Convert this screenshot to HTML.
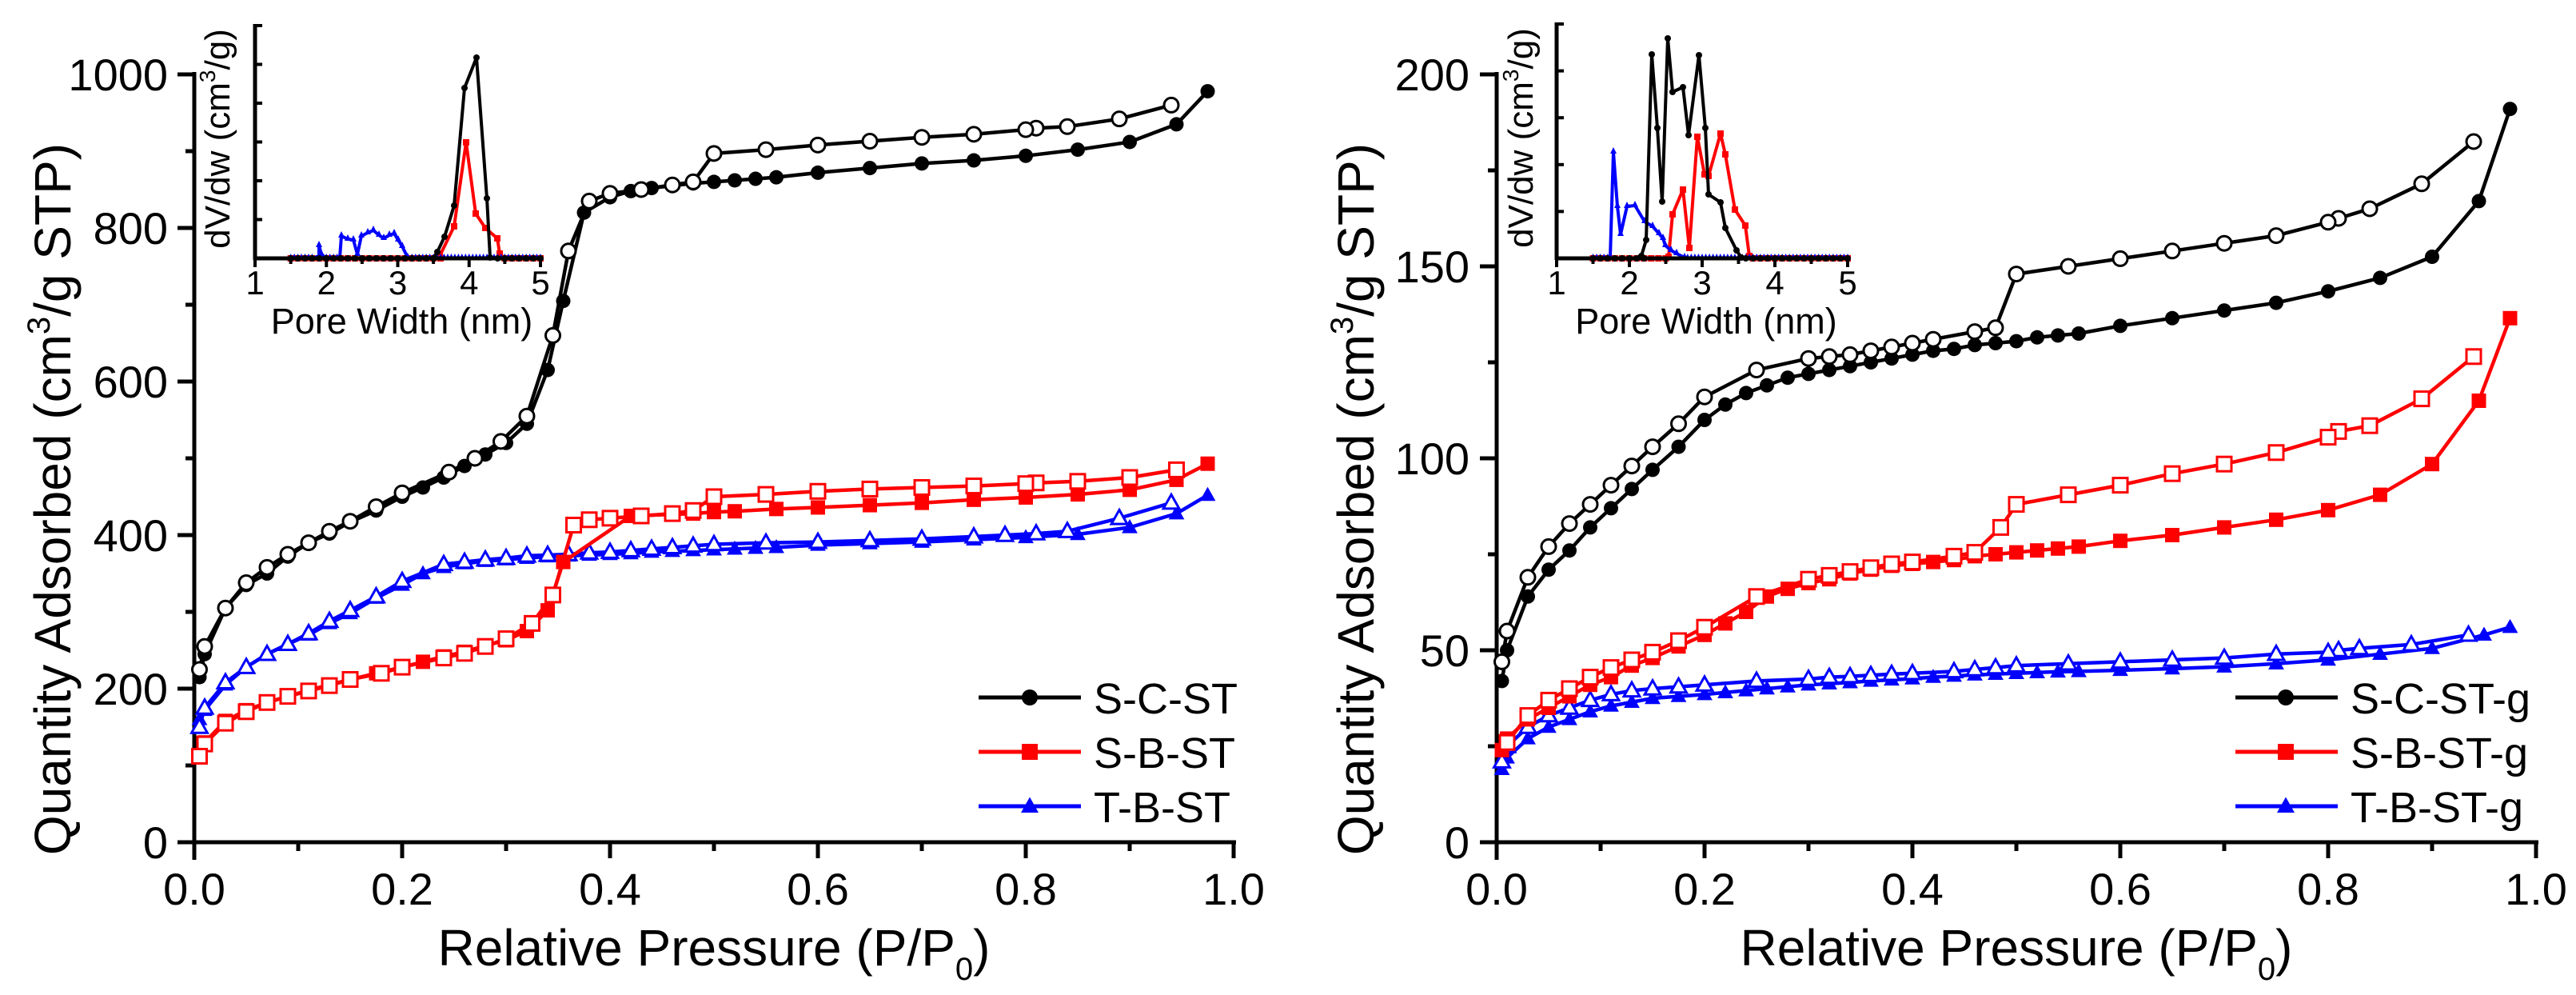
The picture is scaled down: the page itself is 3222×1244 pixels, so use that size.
<!DOCTYPE html>
<html><head><meta charset="utf-8"><style>
html,body{margin:0;padding:0;background:#fff;}
svg{display:block;font-family:"Liberation Sans",Arial,sans-serif;}
</style></head><body>
<svg id="s" width="3222" height="1244" xmlns="http://www.w3.org/2000/svg"></svg>
<script>
const S=document.getElementById('s');const NS='http://www.w3.org/2000/svg';
function el(t,a,txt){const e=document.createElementNS(NS,t);for(const k in a)e.setAttribute(k,a[k]);if(txt!==undefined)e.textContent=txt;S.appendChild(e);return e;}
function line(x1,y1,x2,y2,w,c){el('line',{x1,y1,x2,y2,stroke:c||'#000','stroke-width':w||5});}
function poly(pts,c,w){el('polyline',{points:pts.map(p=>p[0].toFixed(1)+','+p[1].toFixed(1)).join(' '),fill:'none',stroke:c,'stroke-width':w,'stroke-linejoin':'round'});}
function marker(type,x,y,c,open,sz){
 const r=sz||9;const f=open?'#fff':c;const sw=open?3:0;
 if(type==='c')el('circle',{cx:x,cy:y,r:r,fill:f,stroke:open?c:'none','stroke-width':sw});
 else if(type==='s')el('rect',{x:x-r,y:y-r,width:2*r,height:2*r,fill:f,stroke:open?c:'none','stroke-width':sw});
 else el('polygon',{points:`${x},${y-r*1.15} ${x+r*1.1},${y+r*0.8} ${x-r*1.1},${y+r*0.8}`,fill:f,stroke:open?c:'none','stroke-width':sw});
}
function series(data,X,Y,c,type,open){
 const pts=data.map(d=>[X(d[0]),Y(d[1])]);poly(pts,c,4.5);pts.forEach(p=>marker(type,p[0],p[1],c,open));
}
function text(x,y,s,size,anchor,extra){const a={x,y,'font-size':size,'text-anchor':anchor||'start',fill:'#000'};Object.assign(a,extra||{});return el('text',a,s);}

function mainAxes(x0,y0,ymaxVal,ystep,yscale,ylabels,labelRight){
 // axes
 line(x0,y0,x0+1300+3,y0,5);line(x0,y0+22,x0,y0-ymaxVal*yscale-3,5);
 for(let i=0;i<=10;i++){const x=x0+130*i;line(x,y0,x,y0+(i%2==0?20:11),5);}
 for(let i=0;i<=0;i++){}
 const n=Math.round(ymaxVal/ystep);
 for(let i=0;i<=2*n;i++){const y=y0-i*ystep/2*yscale;line(x0,y,x0-(i%2==0?21:11),y,5);}
 for(let i=0;i<=5;i++){text(x0+260*i,1131,(i*0.2).toFixed(1),56,'middle');}
 ylabels.forEach((l,i)=>text(labelRight,y0-i*ystep*yscale+20,l,56,'end'));
}

// ---------- LEFT MAIN ----------
{
const X=p=>243+1300*p, Y=v=>1053-0.96*v;
mainAxes(243,1053,1000,200,0.96,['0','200','400','600','800','1000'],210);
const scA=[[0.005,215],[0.01,245],[0.03,305],[0.05,335],[0.07,350],[0.09,372],[0.11,390],[0.13,402],[0.15,417],[0.175,432],[0.2,450],[0.22,462],[0.24,475],[0.26,490],[0.28,505],[0.3,520],[0.32,545],[0.34,615],[0.355,705],[0.375,820],[0.4,840],[0.42,848],[0.44,852],[0.46,855],[0.48,858],[0.5,860],[0.52,862],[0.54,864],[0.56,866],[0.6,872],[0.65,878],[0.7,884],[0.75,888],[0.8,894],[0.85,902],[0.9,912],[0.945,935],[0.975,978]];
const scD=[[0.94,960],[0.89,942],[0.84,932],[0.81,930],[0.8,928],[0.75,922],[0.7,918],[0.65,913],[0.6,908],[0.55,902],[0.5,897],[0.48,860],[0.46,856],[0.43,850],[0.4,845],[0.38,835],[0.36,770],[0.345,660],[0.32,555],[0.295,522],[0.27,500],[0.245,482],[0.2,455],[0.175,437],[0.15,418],[0.13,405],[0.11,390],[0.09,375],[0.07,358],[0.05,338],[0.03,305],[0.01,255],[0.005,225]];
const sbA=[[0.01,130],[0.03,158],[0.05,172],[0.07,182],[0.09,190],[0.11,198],[0.13,205],[0.15,212],[0.175,220],[0.2,228],[0.22,235],[0.24,242],[0.26,248],[0.28,256],[0.3,263],[0.32,275],[0.34,302],[0.355,365],[0.42,425],[0.46,427],[0.48,428],[0.5,430],[0.52,431],[0.56,434],[0.6,436],[0.65,439],[0.7,442],[0.75,446],[0.8,449],[0.85,453],[0.9,459],[0.945,472],[0.975,493]];
const sbD=[[0.945,485],[0.9,475],[0.85,470],[0.81,468],[0.8,467],[0.75,464],[0.7,462],[0.65,460],[0.6,457],[0.55,453],[0.5,450],[0.48,432],[0.46,428],[0.43,425],[0.4,422],[0.38,420],[0.365,413],[0.345,322],[0.325,285],[0.3,265],[0.28,255],[0.26,246],[0.24,240],[0.2,228],[0.18,220],[0.15,212],[0.13,204],[0.11,197],[0.09,190],[0.07,182],[0.05,170],[0.03,155],[0.01,128],[0.005,112]];
const tbA=[[0.005,160],[0.01,172],[0.03,205],[0.05,228],[0.07,245],[0.09,258],[0.11,270],[0.13,285],[0.15,298],[0.175,318],[0.2,335],[0.22,350],[0.24,358],[0.26,363],[0.28,366],[0.3,368],[0.32,370],[0.34,372],[0.36,373],[0.38,374],[0.4,375],[0.42,376],[0.44,378],[0.46,379],[0.48,380],[0.5,381],[0.52,382],[0.54,383],[0.56,384],[0.6,387],[0.65,389],[0.7,391],[0.75,394],[0.8,397],[0.85,401],[0.9,410],[0.945,428],[0.975,452]];
const tbD=[[0.94,442],[0.89,422],[0.84,405],[0.81,402],[0.78,400],[0.75,398],[0.7,395],[0.65,393],[0.6,391],[0.55,390],[0.5,388],[0.48,386],[0.46,384],[0.44,382],[0.42,380],[0.4,378],[0.38,377],[0.36,375],[0.34,374],[0.32,373],[0.3,370],[0.28,368],[0.26,365],[0.24,362],[0.2,340],[0.175,320],[0.15,302],[0.13,288],[0.11,272],[0.09,258],[0.07,245],[0.05,228],[0.03,208],[0.01,175],[0.005,150]];
series(tbA,X,Y,'#0000ff','t',false);series(tbD,X,Y,'#0000ff','t',true);
series(sbA,X,Y,'#ff0000','s',false);series(sbD,X,Y,'#ff0000','s',true);
series(scA,X,Y,'#000','c',false);series(scD,X,Y,'#000','c',true);
// legend
[['S-C-ST','#000','c',872],['S-B-ST','#ff0000','s',940],['T-B-ST','#0000ff','t',1008]].forEach(l=>{line(1224,l[3],1352,l[3],5,l[1]);marker(l[2],1288,l[3],l[1],false,10);text(1368,l[3]+20,l[0],54);});
// titles
const t=text(893,1207,'',64,'middle');t.innerHTML='Relative Pressure (P/P<tspan font-size="40" dy="18">0</tspan><tspan dy="-18">)</tspan>';
const yt=text(0,0,'',64,'middle',{transform:'translate(88,624) rotate(-90)'});yt.innerHTML='Quantity Adsorbed (cm<tspan font-size="40" dy="-26">3</tspan><tspan dy="26">/g STP)</tspan>';
}
// ---------- RIGHT MAIN ----------
{
const X=p=>1872+1300*p, Y=v=>1053-4.8*v;
mainAxes(1872,1053,200,50,4.8,['0','50','100','150','200'],1838);
const scA=[[0.005,42],[0.01,50],[0.03,64],[0.05,71],[0.07,76],[0.09,82],[0.11,87],[0.13,92],[0.15,97],[0.175,103],[0.2,110],[0.22,114],[0.24,117],[0.26,119],[0.28,121],[0.3,122],[0.32,123],[0.34,124],[0.36,125],[0.38,126],[0.4,127],[0.42,128],[0.44,128.5],[0.46,129.5],[0.48,130],[0.5,130.5],[0.52,131.5],[0.54,132],[0.56,132.5],[0.6,134.5],[0.65,136.5],[0.7,138.5],[0.75,140.5],[0.8,143.5],[0.85,147],[0.9,152.5],[0.945,167],[0.975,191]];
const scD=[[0.94,182.5],[0.89,171.5],[0.84,165],[0.81,162.5],[0.8,161.5],[0.75,158],[0.7,156],[0.65,154],[0.6,152],[0.55,150],[0.5,148],[0.48,134],[0.46,133],[0.42,131],[0.4,130],[0.38,129],[0.36,128],[0.34,127],[0.32,126.5],[0.3,126],[0.25,123],[0.2,116],[0.175,109],[0.15,103],[0.13,98],[0.11,93],[0.09,88],[0.07,83],[0.05,77],[0.03,69],[0.01,55],[0.005,47]];
const sbA=[[0.005,24],[0.01,27],[0.03,32],[0.05,35],[0.07,38],[0.09,41],[0.11,43],[0.13,46],[0.15,48],[0.175,51],[0.2,54],[0.22,57],[0.24,60],[0.26,64],[0.28,66],[0.3,67.5],[0.32,68.5],[0.34,70],[0.36,71],[0.38,72],[0.4,72.5],[0.42,73],[0.44,73.5],[0.46,74.5],[0.48,75],[0.5,75.5],[0.52,76],[0.54,76.5],[0.56,77],[0.6,78.5],[0.65,80],[0.7,82],[0.75,84],[0.8,86.5],[0.85,90.5],[0.9,98.5],[0.945,115],[0.975,136.5]];
const sbD=[[0.94,126.5],[0.89,115.5],[0.84,108.5],[0.81,107],[0.8,105.5],[0.75,101.5],[0.7,98.5],[0.65,96],[0.6,93],[0.55,90.5],[0.5,88],[0.485,82],[0.46,75.5],[0.44,74.5],[0.4,73],[0.38,72.5],[0.36,71.5],[0.34,70.5],[0.32,69.5],[0.3,68.5],[0.25,64],[0.2,56],[0.175,52.5],[0.15,49.5],[0.13,47.5],[0.11,45.5],[0.09,43],[0.07,40],[0.05,37],[0.03,33],[0.01,26]];
const tbA=[[0.005,19],[0.01,22],[0.03,27],[0.05,30],[0.07,32],[0.09,34],[0.11,35.5],[0.13,36.5],[0.15,37.5],[0.175,38],[0.2,38.5],[0.22,39],[0.24,39.5],[0.26,40],[0.28,40.5],[0.3,41],[0.32,41.3],[0.34,41.6],[0.36,42],[0.38,42.3],[0.4,42.6],[0.42,43],[0.44,43.3],[0.46,43.6],[0.48,43.8],[0.5,44],[0.52,44.2],[0.54,44.4],[0.56,44.5],[0.6,44.8],[0.65,45.2],[0.7,45.7],[0.75,46.5],[0.8,47.5],[0.85,49],[0.9,50.5],[0.95,54],[0.975,56]];
const tbD=[[0.935,54],[0.88,51.5],[0.83,50.5],[0.81,50],[0.8,49.5],[0.75,49],[0.7,48],[0.65,47.5],[0.6,47],[0.55,46.5],[0.5,46],[0.48,45.5],[0.46,45],[0.44,44.5],[0.4,44],[0.38,43.8],[0.36,43.5],[0.34,43.2],[0.32,43],[0.3,42.5],[0.25,42],[0.2,41],[0.175,40.5],[0.15,40],[0.13,39.5],[0.11,38.5],[0.09,37],[0.07,35],[0.05,33],[0.03,30],[0.01,25],[0.005,21]];
series(tbA,X,Y,'#0000ff','t',false);series(tbD,X,Y,'#0000ff','t',true);
series(sbA,X,Y,'#ff0000','s',false);series(sbD,X,Y,'#ff0000','s',true);
series(scA,X,Y,'#000','c',false);series(scD,X,Y,'#000','c',true);
[['S-C-ST-g','#000','c',872],['S-B-ST-g','#ff0000','s',940],['T-B-ST-g','#0000ff','t',1008]].forEach(l=>{line(2796,l[3],2924,l[3],5,l[1]);marker(l[2],2859,l[3],l[1],false,10);text(2940,l[3]+20,l[0],54);});
const t=text(2522,1207,'',64,'middle');t.innerHTML='Relative Pressure (P/P<tspan font-size="40" dy="18">0</tspan><tspan dy="-18">)</tspan>';
const yt=text(0,0,'',64,'middle',{transform:'translate(1718,624) rotate(-90)'});yt.innerHTML='Quantity Adsorbed (cm<tspan font-size="40" dy="-26">3</tspan><tspan dy="26">/g STP)</tspan>';
}
// ---------- INSETS ----------
function inset(x0,x1,yb,yt,nt,series3,titleX){
 const X=n=>x0+(n-1)*(x1-x0)/4;
 // data
 series3.forEach(s=>{
  const pts=s.d.map(d=>[X(d[0]),d[1]]);
  // baseline segments
  poly(pts,s.c,4);
  pts.forEach(p=>{if(s.t==='c')el('circle',{cx:p[0],cy:p[1],r:4,fill:s.c});else if(s.t==='s')el('rect',{x:p[0]-4,y:p[1]-4,width:8,height:8,fill:s.c});else el('polygon',{points:`${p[0]},${p[1]-6} ${p[0]+4},${p[1]+2} ${p[0]-4},${p[1]+2}`,fill:s.c});});
 });
 line(x0,yb,x1+2,yb,5);line(x0,yb+2,x0,yt-2,5);
 for(let i=0;i<=8;i++){const x=x0+i*(x1-x0)/8;line(x,yb,x,yb+(i%2==0?11:7),4);}
 for(let i=1;i<=nt;i++){const y=yb-i*(yb-yt)/nt;line(x0,y,x0+9,y,4);}
 for(let i=1;i<=5;i++)text(X(i),368,String(i),42,'middle');
 text((x0+x1)/2+5,417,'Pore Width (nm)',45,'middle');
 const yl=text(0,0,'',44,'middle',{transform:`translate(${titleX},${(yb+yt)/2-4}) rotate(-90)`});
 yl.innerHTML='dV/dw (cm<tspan font-size="28" dy="-18">3</tspan><tspan dy="18">/g)</tspan>';
}
function base(a,b,yb,step){const r=[];for(let n=a;n<=b+1e-9;n+=step)r.push([+n.toFixed(3),yb]);return r;}
{
const yb=323;
const L=x=>(x-319)/89.25+1;
const blk=[...base(1.5,3.5,yb,0.1),[L(547),315],[L(556),296],[L(568),257],[L(581),110],[L(596),72],[L(609),248],[L(613),322],...base(4.4,5,yb,0.1)];
const red=[...base(1.5,3.6,yb,0.1),[L(550),320],[L(568),283],[L(583),178],[L(595),267],[L(607),285],[L(622),298],[L(625),317],...base(4.5,5,yb,0.1)];
const blu=[...base(1.5,1.8,yb,0.05),[L(399),320],[L(399),307],[L(402),318],...base(2.0,2.2,yb,0.05),[L(425),322],[L(427),295],[L(435),299],[L(442),300],[L(447),318],[L(452),295],[L(460),291],[L(467),288],[L(474),294],[L(480),298],[L(487),294],[L(493),292],[L(498),300],[L(503),308],[L(510),322],...base(3.2,5,yb,0.05)];
inset(319,676,323,32,6,[{d:red,c:'#ff0000',t:'s'},{d:blu,c:'#0000ff',t:'t'},{d:blk,c:'#000',t:'c'}],287);
}
{
const yb=323;
const R=x=>(x-1947)/91+1;
const blk=[...base(1.5,2.2,yb,0.1),[R(2053),320],[R(2059),300],[R(2066),68],[R(2073),160],[R(2079),252],[R(2086),48],[R(2092),115],[R(2105),109],[R(2112),169],[R(2125),69],[R(2133),160],[R(2137),243],[R(2152),253],[R(2158),285],[R(2172),313],[R(2178),322],...base(3.6,5,yb,0.1)];
const red=[...base(1.5,2.5,yb,0.1),[R(2087),321],[R(2092),268],[R(2105),237],[R(2113),310],[R(2123),171],[R(2132),218],[R(2137),220],[R(2152),167],[R(2158),193],[R(2170),262],[R(2183),282],[R(2188),320],...base(3.7,5,yb,0.1)];
const blu=[...base(1.5,1.7,yb,0.05),[R(2014),322],[R(2018),190],[R(2023),258],[R(2027),293],[R(2035),258],[R(2045),257],[R(2057),277],[R(2067),283],[R(2075),292],[R(2080),298],[R(2083),307],[R(2090),313],[R(2097),317],[R(2107),322],...base(2.8,5,yb,0.05)];
inset(1947,2311,323,30,5,[{d:red,c:'#ff0000',t:'s'},{d:blu,c:'#0000ff',t:'t'},{d:blk,c:'#000',t:'c'}],1917);
}
</script>
</body></html>
